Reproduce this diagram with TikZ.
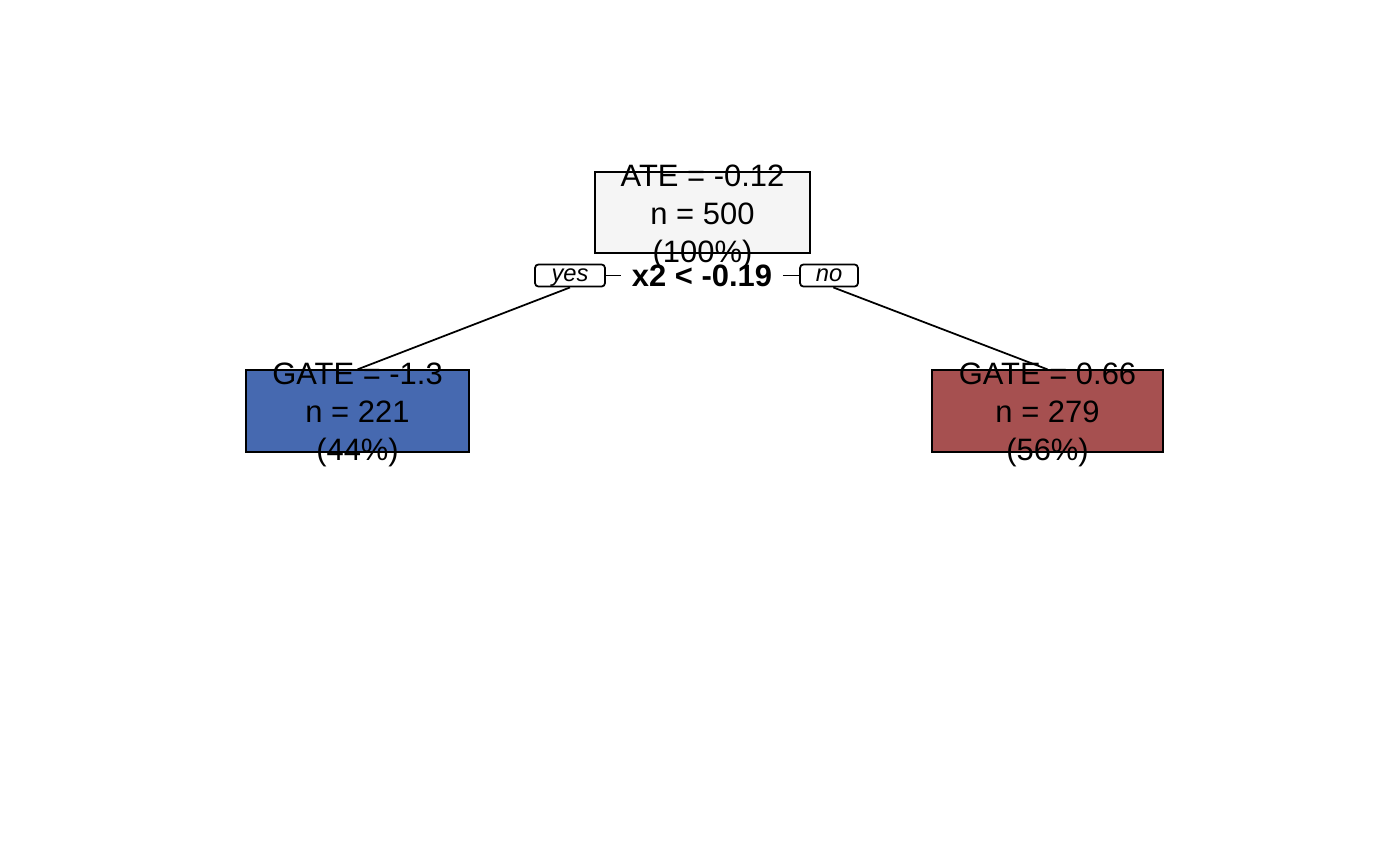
\documentclass[tikz,border=0pt]{standalone}
\usepackage{fontspec}
\setmainfont{Liberation Sans}
\usetikzlibrary{positioning}
\definecolor{rootfill}{HTML}{F5F5F5}
\definecolor{leftfill}{HTML}{4669B0}
\definecolor{rightfill}{HTML}{A65050}
\tikzset{
  treebox/.style={draw,line width=1pt,inner sep=0pt,minimum height=1.63cm},
  boxtext/.style={align=center,inner sep=0pt,font=\fontsize{17.6}{21.5}\selectfont},
  sidetag/.style={draw,rounded corners=2pt,line width=1pt,inner sep=0pt,minimum height=0.42cm,
    text height=9.8pt,text depth=2.8pt,font=\fontsize{13.5}{15}\selectfont\itshape},
}
\begin{document}
\begin{tikzpicture}[x=0.02cm,y=-0.02cm,line width=1pt]
            \useasboundingbox (0,0) rectangle (1400,866);
            % boxes
            \node[treebox,fill=rootfill,minimum width=4.3cm] (root) at (702.5,212.5) {};
            \node[treebox,fill=leftfill,minimum width=4.46cm] (leftleaf) at (357.5,411) {};
            \node[treebox,fill=rightfill,minimum width=4.62cm] (rightleaf) at (1047.5,411) {};
            % split and tags
            \node[font=\fontsize{17.6}{20}\selectfont\bfseries,inner xsep=0.2cm,inner ysep=0pt] (split) at (702,275.5) {x2 < -0.19};
            \node[sidetag,minimum width=1.4cm] (yestag) at (570,275.5) {yes};
            \node[sidetag,minimum width=1.16cm] (notag) at (829,275.5) {no};
            \draw (yestag.east) -- (split.west) (split.east) -- (notag.west);
            \draw (yestag.south) -- (leftleaf.north);
            \draw (notag.290) -- (rightleaf.north);
            % texts
            \node[boxtext] (roottext) at (702.5,217) {ATE = -0.12\\ n = 500\\ (100\%)};
            \node[boxtext] (lefttext) at (357.5,415) {GATE = -1.3\\ n = 221\\ (44\%)};
            \node[boxtext] (righttext) at (1047.5,415) {GATE = 0.66\\ n = 279\\ (56\%)};
\end{tikzpicture}
\end{document}
